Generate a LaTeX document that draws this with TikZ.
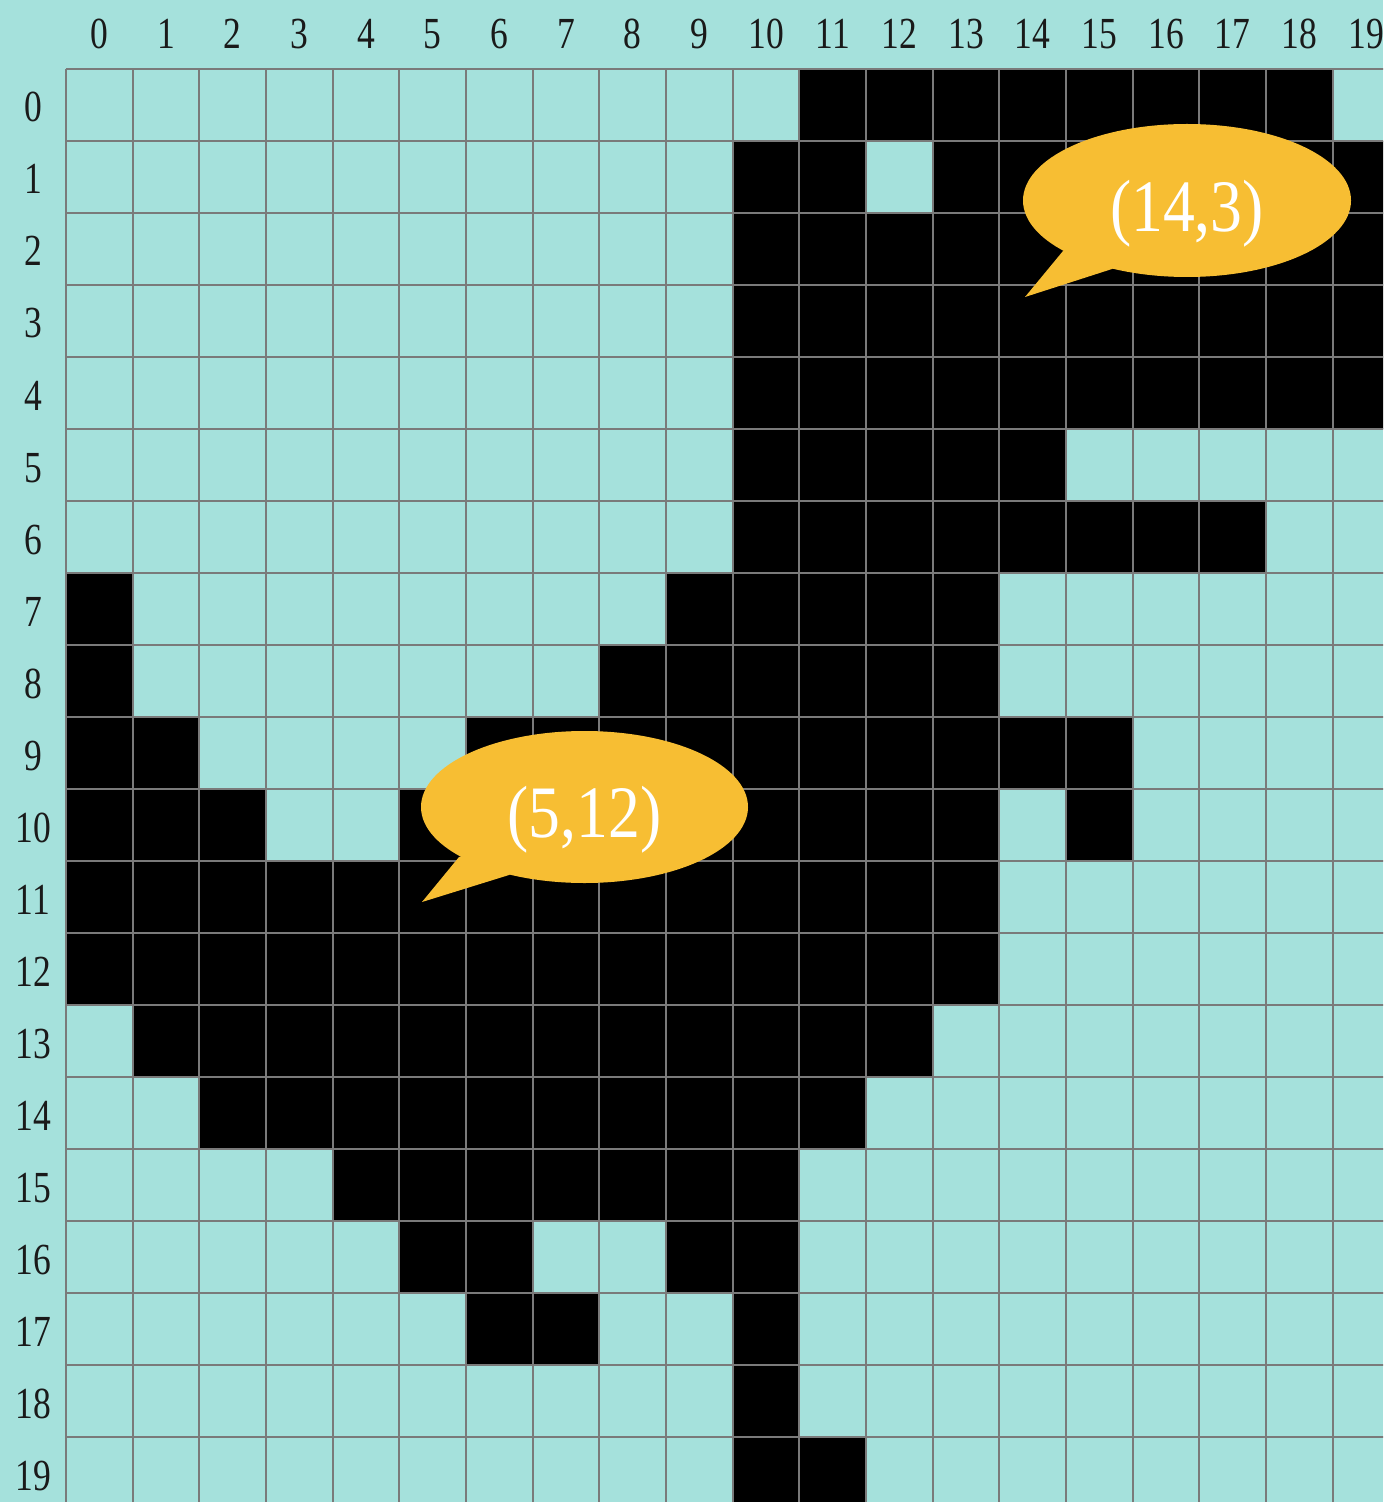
\documentclass[tikz,border=0pt]{standalone}
\usepackage{fontspec}
\usepackage{graphicx}
\setmainfont{Liberation Serif}
\definecolor{bgteal}{HTML}{A5E1DC}
\definecolor{gridgray}{HTML}{7A7A7A}
\definecolor{bubble}{HTML}{F7BE33}
\definecolor{labcol}{HTML}{1A1A1A}
\newcommand{\narrowtxt}[2]{\scalebox{#1}[1]{#2}}
\tikzset{
  lab/.style={font=\fontsize{22.2}{24}\selectfont, text=labcol, inner sep=0pt, anchor=base},
  bubtext/.style={font=\fontsize{37}{40}\selectfont, text=white, inner sep=0pt, anchor=base},
  cellfill/.style={fill=black},
  gridline/.style={draw=gridgray, line width=1pt},
  bubblefill/.style={fill=bubble}
}
\begin{document}
\begin{tikzpicture}[x=0.5pt,y=-0.5pt]
\useasboundingbox (0,0) rectangle (1383,1502);
\fill[bgteal] (0,0) rectangle (1383,1502);
\begin{scope}
\clip (0,0) rectangle (1383,1502);
% black cells: row/first col/last col
\foreach \r/\a/\b in {0/11/18, 1/10/11, 1/13/19, 2/10/19, 3/10/19, 4/10/19, 5/10/14, 6/10/17,
  7/0/0, 7/9/13, 8/0/0, 8/8/13, 9/0/1, 9/6/15, 10/0/2, 10/5/13, 10/15/15,
  11/0/13, 12/0/13, 13/1/12, 14/2/11, 15/4/10, 16/5/6, 16/9/10, 17/6/7, 17/10/10,
  18/10/10, 19/10/11}
  \fill[cellfill] ({66+\a*66.667},{69+\r*72}) rectangle ({66+(\b+1)*66.667},{69+(\r+1)*72});
% grid lines
\foreach \i in {0,...,20}
  \draw[gridline] ({66+\i*66.667},69) -- ({66+\i*66.667},1510);
\foreach \j in {0,...,20}
  \draw[gridline] (66,{69+\j*72}) -- (1400,{69+\j*72});
% bubbles
\fill[bubblefill] (1187,200.5) ellipse [x radius=164, y radius=76.5];
\fill[bubblefill] (1063,251) -- (1025,297) -- (1112,269) -- (1150,230) -- cycle;
\fill[bubblefill] (584.5,807) ellipse [x radius=163.5, y radius=76];
\fill[bubblefill] (459,857) -- (422,902) -- (509,875) -- (550,840) -- cycle;
% axis labels
\foreach \c in {0,...,19}
  \node[lab] (col\c) at ({66+(\c+0.5)*66.667},49) {\narrowtxt{0.8}{\c}};
\foreach \r in {0,...,19}
  \node[lab] (row\r) at (33,{69+\r*72+53}) {\narrowtxt{0.8}{\r}};
\end{scope}
\node[bubtext] (b1) at (1187,232) {\narrowtxt{0.86}{(14,3)}};
\node[bubtext] (b2) at (584.5,837) {\narrowtxt{0.86}{(5,12)}};
\end{tikzpicture}
\end{document}
